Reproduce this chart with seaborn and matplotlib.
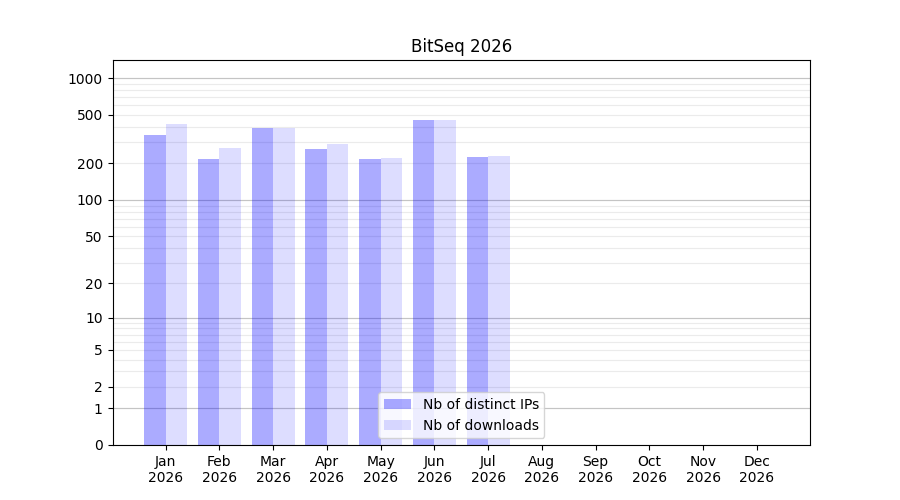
import numpy as np
import pandas as pd
import seaborn as sns
import matplotlib
matplotlib.use("Agg")
import matplotlib.pyplot as plt

# monthly download stats
months = ["Jan", "Feb", "Mar", "Apr", "May", "Jun",
          "Jul", "Aug", "Sep", "Oct", "Nov", "Dec"]
year = "2026"
distinct_ips = [343, 218, 392, 263, 218, 456, 226, 0, 0, 0, 0, 0]
downloads = [423, 268, 392, 289, 222, 456, 229, 0, 0, 0, 0, 0]
ytick_values = [0, 1, 2, 5, 10, 20, 50, 100, 200, 500, 1000]
decades = [1, 10, 100, 1000]

ip_label = "Nb of distinct IPs"
dl_label = "Nb of downloads"

df = pd.DataFrame({
    "month": months * 2,
    "value": distinct_ips + downloads,
    "series": [ip_label] * len(months) + [dl_label] * len(months),
})


def fwd(y):
    return np.log10(1 + np.maximum(y, 0))


def inv(y):
    return 10 ** y - 1


fig, ax = plt.subplots(figsize=(9, 5), dpi=100)

sns.barplot(data=df, x="month", y="value", hue="series", order=months,
            hue_order=[ip_label, dl_label], palette=["blue", "blue"],
            saturation=1, errorbar=None, width=0.8, linewidth=0, ax=ax,
            zorder=2)

# lighter second series, both see-through
for cont, alpha in zip(ax.containers, [0.33, 0.133]):
    for p in cont.patches:
        p.set_alpha(alpha)

ax.set_yscale("function", functions=(fwd, inv))
ax.set_yticks(ytick_values, [str(v) for v in ytick_values])
minor = [m * d for d in decades[:-1] for m in range(2, 10)]
ax.set_yticks(minor, minor=True)
ax.tick_params(axis="y", which="minor", length=0)
ax.grid(axis="y", which="both", color="#ebebeb", linewidth=0.8, zorder=0)
for d in decades:
    ax.axhline(d, color="#c4c4c4", linewidth=0.8, zorder=1)
ax.set_axisbelow(True)
ax.set_ylim(0, 1410)

n = len(months)
ax.set_xlim(-0.4 - 0.59, n - 1 + 0.4 + 0.59)
ax.set_xticks(range(n), [f"{m}\n{year}" for m in months])
ax.set_xlabel("")
ax.set_ylabel("")
ax.set_title(f"BitSeq {year}")

ax.legend(handles=[ax.containers[0], ax.containers[1]],
          labels=[ip_label, dl_label], loc="lower center")

fig.savefig("out.png", dpi=100)
